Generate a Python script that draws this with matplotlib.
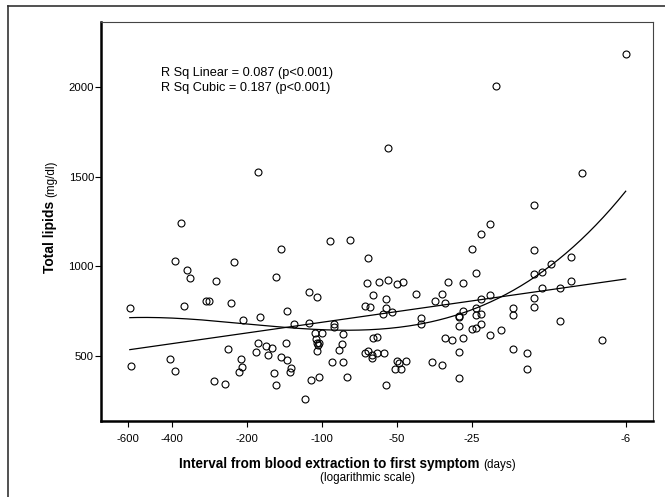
import matplotlib
matplotlib.use("Agg")
import matplotlib.pyplot as plt
import numpy as np
from matplotlib.lines import Line2D

plt.rcParams['font.family'] = ['Liberation Sans', 'DejaVu Sans']

# interval from blood extraction to first symptom (days)
days = [-369, -146, -389, -225, -348, -338, -153, -266, -113, -105,
        -293, -285, -233, -360, -138, -592, -208, -177, -130, -113,
        -107, -106, -105, -103, -104, -105, -100, -238, -180, -168,
        -159, -140, -184, -164, -146, -138, -408, -211, -585, -133,
        -210, -216, -388, -134, -156, -272, -245, -153, -111, -117,
        -103,
        -21, -23, -25, -93, -77, -65, -14, -10, -12, -24,
        -14, -13, -66, -59, -54, -50, -47, -31, -27, -62,
        -42, -33, -55, -35, -32, -67, -64, -55, -52, -57,
        -13, -11, -10, -14, -21, -23, -24, -27, -28, -28,
        -24, -23, -17, -17, -14, -11, -40, -40, -28, -23,
        -24, -25, -21, -19, -89, -89, -82, -62, -60, -32,
        -30, -27, -7.5, -83, -85, -67, -65, -63, -63, -60,
        -56, -28, -17, -15, -91, -82, -50, -49, -46, -36,
        -33, -51, -48, -15, -79, -28, -55,
        -6, -20, -54, -9, -14, -180]

# total lipids (mg/dl)
lipids = [1244, 1099, 1030, 1026, 982, 934, 939, 917, 859, 829,
          807, 807, 794, 781, 753, 770, 701, 719, 680, 682,
          630, 593, 570, 574, 561, 526, 627, 541, 571, 556,
          545, 573, 522, 506, 493, 476, 485, 483, 446, 435,
          439, 411, 416, 412, 407, 360, 345, 338, 366, 260,
          384,
          1237, 1182, 1095, 1143, 1147, 1045, 1091, 1054, 1015, 965,
          956, 967, 907, 911, 926, 900, 913, 913, 907, 842,
          846, 844, 816, 809, 794, 781, 775, 770, 746, 734,
          879, 879, 918, 825, 839, 818, 770, 749, 722, 716,
          729, 734, 768, 727, 772, 694, 710, 677, 669, 677,
          656, 649, 619, 643, 680, 660, 621, 600, 606, 600,
          588, 600, 589, 565, 532, 517, 526, 507, 487, 517,
          518, 521, 539, 515, 468, 468, 472, 459, 474, 468,
          450, 426, 426, 426, 383, 376, 338,
          2187, 2005, 1659, 1523, 1343, 1528]

x_ticks = [-600, -400, -200, -100, -50, -25, -6]
y_ticks = [500, 1000, 1500, 2000]

W, H = 665, 497


def fx(px):
    return px / W


def fy(py):
    return 1 - py / H


def fwd(v):
    return -np.log10(np.abs(v))


def inv(u):
    return -10.0 ** (-np.asarray(u))


fig = plt.figure(figsize=(W / 100, H / 100), dpi=100)
ax = fig.add_axes([fx(101), fy(421), (653 - 101) / W, (421 - 22) / H])
ax.set_xscale('function', functions=(fwd, inv))

ax.plot(days, lipids, 'o', ms=5, mfc='none', mec='black', mew=0.8,
        zorder=3)

# SPSS style fit lines (linear and cubic in log days)
t = np.log10(-np.array(days, dtype=float))
y = np.array(lipids, dtype=float)
tt = np.linspace(t.min(), t.max(), 200)
lin = np.polyval(np.polyfit(t, y, 1), tt)
cub = np.polyval(np.polyfit(t, y, 3), tt)
ax.plot(-10 ** tt, lin, color='black', lw=0.9)
ax.plot(-10 ** tt, cub, color='black', lw=0.9)

ax.set_xlim(-773, -4.66)
ax.set_ylim(137, 2364)
ax.set_xticks(x_ticks)
ax.set_xticklabels([str(v) for v in x_ticks])
ax.set_yticks(y_ticks)
ax.set_yticklabels([str(v) for v in y_ticks])
ax.minorticks_off()
ax.tick_params(direction='out', length=4, width=0.8, labelsize=8.2,
               colors='black')
ax.tick_params(axis='x', pad=5)
ax.tick_params(axis='y', pad=1)

for s in ['left', 'bottom']:
    ax.spines[s].set_linewidth(1.8)
for s in ['top', 'right']:
    ax.spines[s].set_linewidth(0.8)
    ax.spines[s].set_color('#444444')

# R squared annotation
fig.text(fx(161), fy(76), "R Sq Linear = 0.087 (p<0.001)", fontsize=9.2,
         va='baseline')
fig.text(fx(161), fy(91), "R Sq Cubic = 0.187 (p<0.001)", fontsize=9.2,
         va='baseline')

renderer = fig.canvas.get_renderer()

# x axis title: bold part + normal part, second line below
t1 = fig.text(fx(179), fy(468), "Interval from blood extraction to first symptom",
              fontsize=9.75, fontweight='bold', ha='left', va='baseline')
bb = t1.get_window_extent(renderer)
fig.text((bb.x1 + 4) / W, fy(468), "(days)", fontsize=8.4, ha='left',
         va='baseline')
fig.text(fx(367), fy(481.5), "(logarithmic scale)", fontsize=8.4,
         ha='center', va='baseline')

# y axis title
t2 = fig.text(fx(54), fy(273), "Total lipids", fontsize=10,
              fontweight='bold', rotation=90, rotation_mode='anchor',
              ha='left', va='baseline')
bb2 = t2.get_window_extent(renderer)
fig.text(fx(54), (bb2.y1 + 4) / H, "(mg/dl)", fontsize=8.4, rotation=90,
         rotation_mode='anchor', ha='left', va='baseline')

# outer frame (open towards right and bottom)
fig.add_artist(Line2D([fx(8), fx(8)], [0, fy(6)], color='#333333', lw=1.2))
fig.add_artist(Line2D([fx(8), 1], [fy(6), fy(6)], color='#333333', lw=1.2))

fig.savefig("out.png", dpi=100)
